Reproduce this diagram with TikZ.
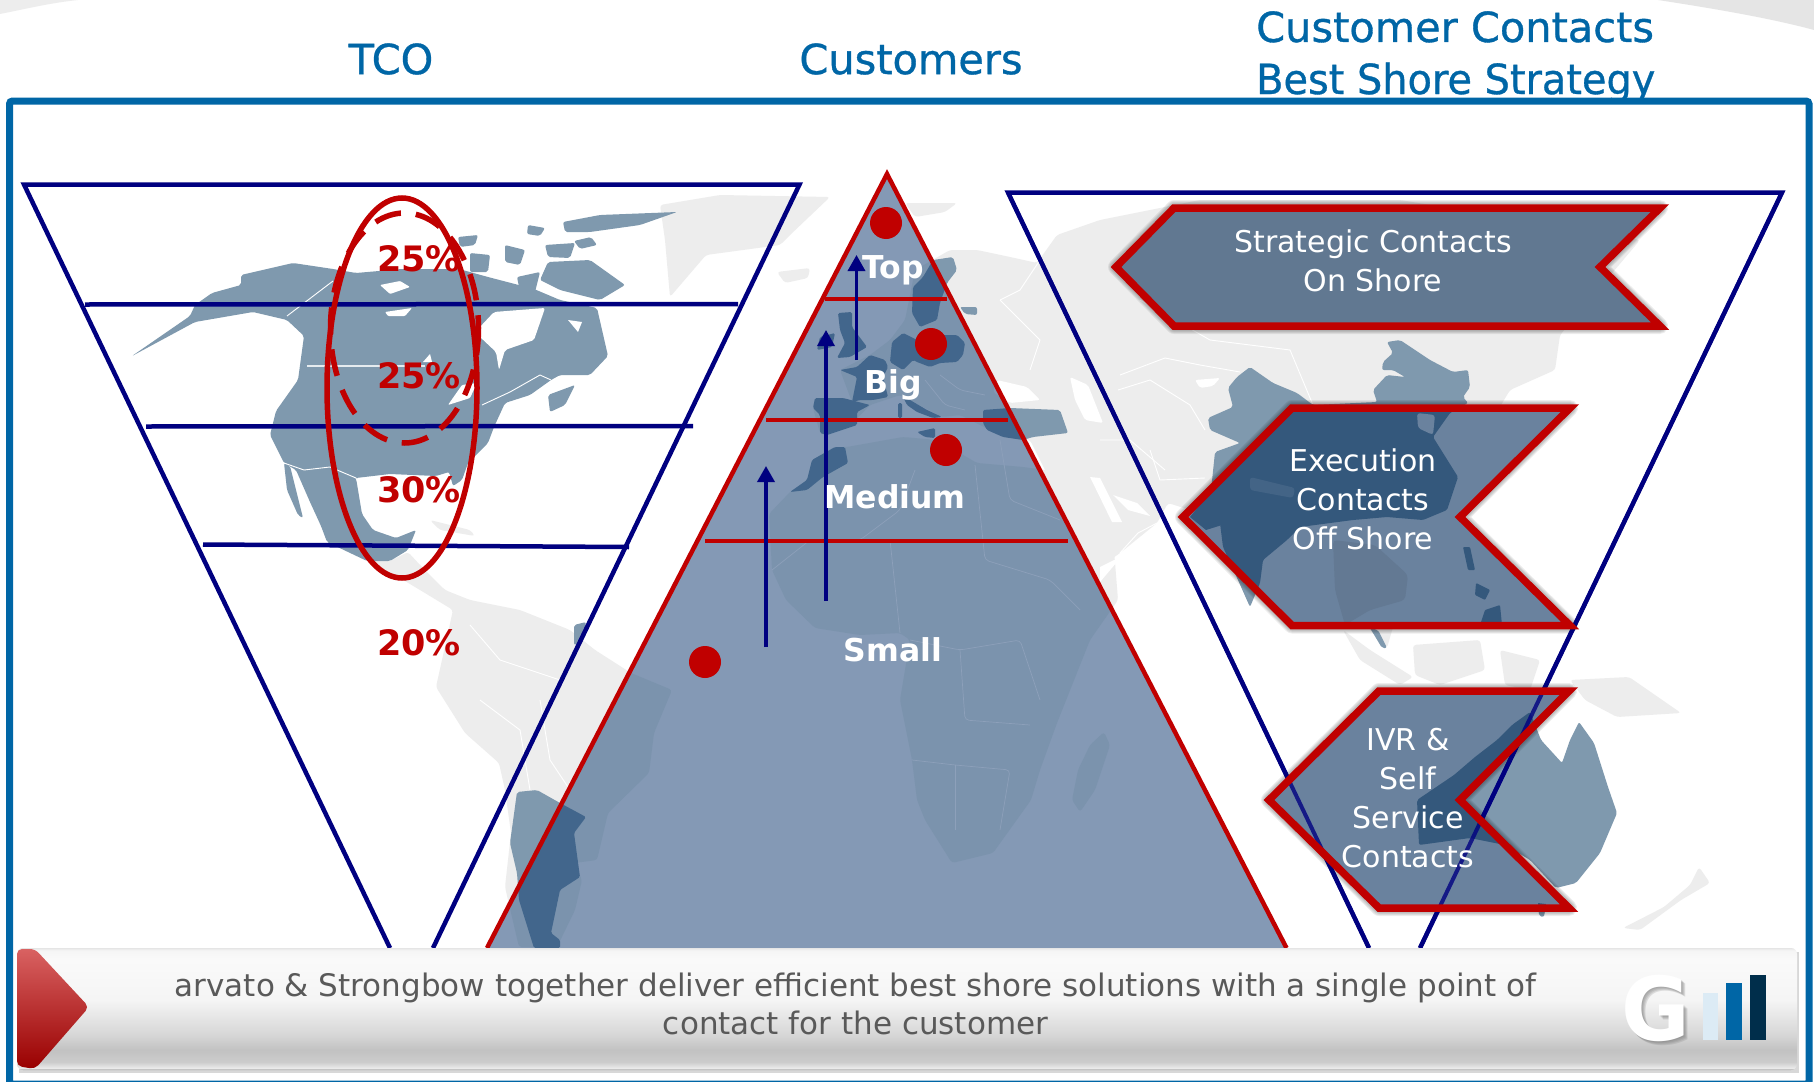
\documentclass[tikz,border=0pt]{standalone}
\usepackage{fontspec}
\setmainfont{DejaVu Sans}
\newfontfamily\headfont[FakeBold=0.8]{DejaVu Sans}
\usetikzlibrary{arrows.meta}
\definecolor{brandblue}{HTML}{0066A6}
\definecolor{navy}{HTML}{000080}
\definecolor{crimson}{HTML}{C00000}
\definecolor{mapgray}{HTML}{EDEDED}
\definecolor{landblue}{HTML}{7F99AE}
\definecolor{pyrfill}{HTML}{8499B5}
\definecolor{pyrland}{HTML}{7B93AD}
\definecolor{pyrdark}{HTML}{42668C}
\definecolor{chevfill}{HTML}{6A829E}
\definecolor{chevdark}{HTML}{34587C}
\definecolor{bartext}{HTML}{595959}
\definecolor{palebar}{HTML}{DCEBF5}
\pgfdeclareverticalshading{barshade}{100bp}{
 color(0bp)=(white);
 color(25bp)=(white!60!black!100);
 color(25.8bp)=(black!8);
 color(28.3bp)=(black!20);
 color(33.2bp)=(black!24);
 color(39.3bp)=(black!16);
 color(53.7bp)=(black!4);
 color(70bp)=(black!2);
 color(74bp)=(black!4);
 color(75bp)=(black!10);
 color(100bp)=(white)}
\newcommand\PyrClip{(887,174) -- (1286.5,948) -- (487,948) -- cycle}
\newcommand\NAm{(241,275) -- (293,263) -- (333,269) -- (356,273) -- (402,269) -- (459,269) -- (488,277) -- (534,289) -- (560,300) -- (597,308) -- (608,356) -- (590,375) -- (560,375) -- (551,380) -- (530,395) -- (505,403) -- (494,427) -- (488,443) -- (468,463) -- (462,480) -- (453,486) -- (449,472) -- (436,476) -- (390,474) -- (356,478) -- (362,514) -- (373,530) -- (396,538) -- (416,530) -- (408,550) -- (390,561) -- (367,561) -- (327,542) -- (321,526) -- (310,502) -- (296,470) -- (284,463) -- (270,435) -- (276,411) -- (298,380) -- (304,336) -- (287,320) -- (253,312) -- (195,322) -- (132,356) -- (190,316) -- (195,305) -- (212,293) -- (241,285) -- cycle}
\newcommand\SAm{(367,561) -- (390,561) -- (408,552) -- (420,565) -- (445,590) -- (470,600) -- (520,610) -- (570,630) -- (595,650) -- (631,673) -- (672,690) -- (654,733) -- (649,773) -- (608,813) -- (597,860) -- (574,863) -- (582,880) -- (575,910) -- (557,947) -- (519,947) -- (505,887) -- (511,833) -- (505,790) -- (499,763) -- (465,733) -- (436,687) -- (442,660) -- (453,610) -- (420,590) -- (395,575) -- cycle}
\newcommand\Arg{(517,792) -- (537,790) -- (560,803) -- (586,817) -- (574,833) -- (580,877) -- (560,890) -- (551,933) -- (560,940) -- (560,948) -- (534,948) -- (519,900) -- (517,873) -- (510,843) -- cycle}
\newcommand\Eur{(950,250) -- (977,250) -- (1010,257) -- (1037,263) -- (1057,235) -- (1100,220) -- (1200,200) -- (1400,200) -- (1640,240) -- (1560,335) -- (1555,370) -- (1510,390) -- (1480,440) -- (1450,510) -- (1420,560) -- (1395,620) -- (1387,648) -- (1370,630) -- (1340,540) -- (1290,540) -- (1262,570) -- (1250,607) -- (1238,580) -- (1222,527) -- (1200,513) -- (1168,503) -- (1157,523) -- (1120,553) -- (1100,567) -- (1075,530) -- (1045,470) -- (1030,440) -- (990,430) -- (960,415) -- (942,417) -- (900,395) -- (870,405) -- (848,428) -- (820,433) -- (813,408) -- (815,398) -- (852,402) -- (840,370) -- (870,355) -- (890,340) -- (905,320) -- (915,270) -- cycle}
\newcommand\Afr{(790,492) -- (807,480) -- (812,460) -- (835,447) -- (847,447) -- (903,437) -- (937,440) -- (977,463) -- (1023,467) -- (1045,470) -- (1085,478) -- (1112,525) -- (1118,600) -- (1090,640) -- (1057,723) -- (1040,770) -- (1031,800) -- (993,853) -- (952,863) -- (925,820) -- (917,800) -- (912,760) -- (900,700) -- (910,640) -- (900,633) -- (860,635) -- (815,628) -- (786,600) -- (772,570) -- (769,514) -- cycle}
\newcommand\Madag{(1104,732) -- (1110,745) -- (1095,790) -- (1080,812) -- (1072,800) -- (1078,770) -- (1090,745) -- cycle}
\newcommand\ChinaInd{(1387,342) -- (1400,340) -- (1430,360) -- (1453,372) -- (1468,370) -- (1470,387) -- (1463,397) -- (1468,403) -- (1450,413) -- (1433,437) -- (1458,477) -- (1447,510) -- (1423,520) -- (1387,517) -- (1353,520) -- (1300,527) -- (1287,540) -- (1263,560) -- (1260,583) -- (1250,607) -- (1238,580) -- (1223,547) -- (1220,523) -- (1200,523) -- (1210,500) -- (1215,452) -- (1240,443) -- (1210,430) -- (1208,418) -- (1233,407) -- (1228,388) -- (1237,377) -- (1250,367) -- (1273,383) -- (1297,393) -- (1313,405) -- (1377,402) -- (1373,390) -- (1387,375) -- (1405,377) -- (1393,370) -- (1382,370) -- (1383,362) -- (1393,353) -- cycle}
\newcommand\Aus{(1579,722) -- (1594,743) -- (1608,787) -- (1617,813) -- (1600,853) -- (1576,883) -- (1556,888) -- (1530,860) -- (1505,845) -- (1470,838) -- (1419,845) -- (1417,800) -- (1454,775) -- (1475,757) -- (1497,740) -- (1512,725) -- (1530,712) -- (1541,740) -- (1562,763) -- (1570,740) -- cycle}
\newcommand\Tur{(983,423) -- (983,410) -- (1010,408) -- (1060,410) -- (1068,433) -- (1033,437) -- (1023,440) -- (1003,437) -- (987,430) -- cycle}
\newcommand\Swe{(933,260) -- (953,257) -- (957,270) -- (947,283) -- (940,303) -- (937,320) -- (920,327) -- (912,313) -- (913,287) -- (923,277) -- cycle}
\newcommand\ChevA{(1116,267) -- (1174,208) -- (1660,208) -- (1600,267) -- (1660,326) -- (1174,326) -- cycle}
\newcommand\ChevB{(1183,517) -- (1292,408) -- (1570,408) -- (1460,517) -- (1570,625.5) -- (1292,625.5) -- cycle}
\newcommand\ChevC{(1269,800) -- (1379,691) -- (1569,691) -- (1460,800) -- (1569,908) -- (1379,908) -- cycle}
\tikzset{
 grayland/.style={fill=mapgray,draw=none,rounded corners=3pt},
 blueland/.style={fill=landblue,draw=none,rounded corners=2pt},
 inland/.style={fill=pyrland,draw=none,rounded corners=3pt},
 darkland/.style={fill=pyrdark,draw=none,rounded corners=1.5pt},
 whiteline/.style={draw=white,line width=0.9pt,line join=round},
 pyrborder/.style={draw=pyrfill!93!white,line width=0.7pt,rounded corners=4pt},
 trinavy/.style={draw=navy,line width=4.5pt,line join=miter},
 rulenavy/.style={draw=navy,line width=4.5pt},
 rulered/.style={draw=crimson,line width=4.5pt},
 chevline/.style={draw=crimson,line width=7.5pt,line join=miter,miter limit=8},
 chevglow/.style={draw=black,opacity=0.07,line join=round},
 riser/.style={draw=navy,line width=3.5pt,-{Triangle[length=16pt,width=17pt]}},
 reddot/.style={circle,fill=crimson,draw=none,minimum size=32pt,inner sep=0pt},
 pct/.style={text=crimson,font=\fontsize{35}{40}\selectfont\bfseries},
 tier/.style={text=white,font=\fontsize{31.5}{38}\selectfont\bfseries},
 heading/.style={text=brandblue,font=\fontsize{41.5}{50}\selectfont\headfont},
 chevtext/.style={text=white,align=center,font=\fontsize{30}{39}\selectfont},
 bartxt/.style={text=bartext,align=center,font=\fontsize{31}{38}\selectfont}
}
\begin{document}
\begin{tikzpicture}[x=1pt,y=-1pt]
\useasboundingbox (0,0) rectangle (1814,1081);
\fill[white] (0,0) rectangle (1814,1081);
% corner swooshes
\fill[black!7] (0,14) .. controls (30,8) and (50,3) .. (78,0) -- (0,0) -- cycle;
\fill[black!10] (1658,0) .. controls (1710,8) and (1770,18) .. (1814,30) -- (1814,0) -- cycle;
% grey world map
\fill[grayland] \Eur;
\fill[grayland] \Afr;
\fill[grayland] \SAm;
\fill[grayland] (660,205) -- (720,195) -- (830,197) -- (790,235) -- (780,245) -- (706,255) -- (670,297) -- (665,240) -- cycle;
\fill[grayland] (777,272) -- (810,268) -- (808,278) -- (785,283) -- cycle;
\fill[grayland] (905,203) -- (957,203) -- (945,212) -- (915,217) -- cycle;
\fill[grayland] (430,520) -- (470,530) -- (475,536) -- (440,530) -- cycle;
\fill[grayland] (1343,630) -- (1370,650) -- (1413,677) -- (1400,685) -- (1360,660) -- cycle;
\fill[grayland] (1413,645) -- (1480,640) -- (1485,670) -- (1440,685) -- (1415,675) -- cycle;
\fill[grayland] (1500,650) -- (1540,660) -- (1530,690) -- (1505,685) -- cycle;
\fill[grayland] (1570,680) -- (1629,677) -- (1681,713) -- (1617,717) -- (1585,700) -- cycle;
\fill[grayland] (1699,867) -- (1710,883) -- (1681,900) -- (1640,930) -- (1623,928) -- (1664,907) -- (1690,885) -- cycle;
% seas cut out of the grey
\fill[white,rounded corners=2pt] (997,380) -- (1027,387) -- (1040,400) -- (1010,403) -- (993,392) -- cycle;
\fill[white,rounded corners=2pt] (1070,377) -- (1088,385) -- (1103,423) -- (1085,420) -- (1075,400) -- cycle;
\fill[white,rounded corners=2pt] (1195,380) -- (1220,378) -- (1213,386) -- (1200,388) -- cycle;
\fill[white] (1090,477) -- (1100,478) -- (1122,522) -- (1112,522) -- cycle;
\fill[white] (1113,495) -- (1137,503) -- (1150,516) -- (1128,510) -- cycle;
\fill[white] (1100,567) -- (1122,556) -- (1100,582) -- cycle;
\draw[whiteline] (1120,375) -- (1165,358) -- (1200,365) -- (1240,372);
\draw[whiteline] (1118,390) -- (1150,380) -- (1190,405) -- (1205,430);
\draw[whiteline] (1150,450) -- (1160,480) -- (1205,478);
\draw[whiteline] (1000,300) -- (1040,340) -- (1030,370);
\draw[whiteline] (1040,260) -- (1020,290) -- (1000,300);
\draw[whiteline] (1100,440) -- (1130,440) -- (1165,470);
\draw[whiteline] (1313,405) -- (1290,350) -- (1210,340) -- (1140,300);
\draw[whiteline] (470,625) -- (500,660) -- (560,680);
\draw[whiteline] (480,700) -- (520,730) -- (530,790);
\draw[whiteline] (540,700) -- (550,760) -- (570,790);
\draw[whiteline] (1120,553) -- (1138,533) -- (1157,523);
% North America
\fill[blueland] \NAm;
\fill[blueland] (284,463) -- (290,466) -- (303,518) -- (298,515) -- (287,490) -- cycle;
\fill[white,rounded corners=2pt] (479,328) -- (494,312) -- (545,308) -- (534,340) -- (505,350) -- (499,370) -- (496,352) -- (479,336) -- cycle;
\fill[white,rounded corners=1pt] (380,285) -- (400,281) -- (410,287) -- (390,294) -- cycle;
\fill[white,rounded corners=1pt] (385,312) -- (412,308) -- (405,316) -- (388,316) -- cycle;
\fill[white,rounded corners=1pt] (448,405) -- (462,385) -- (477,383) -- (470,398) -- cycle;
\fill[white] (423,362) -- (430,354) -- (432,362) -- cycle;
\fill[white] (568,320) -- (582,322) -- (578,332) -- cycle;
\fill[white,rounded corners=1pt] (565,277) -- (580,275) -- (575,284) -- cycle;
\fill[blueland] (563,222) -- (600,215) -- (677,212) -- (640,225) -- (590,232) -- (565,232) -- cycle;
\fill[blueland] (548,262) -- (590,260) -- (625,285) -- (600,300) -- (560,290) -- (540,280) -- cycle;
\fill[blueland] (458,237) -- (478,235) -- (475,245) -- (460,247) -- cycle;
\fill[blueland] (470,253) -- (490,255) -- (488,272) -- (470,272) -- cycle;
\fill[blueland] (528,225) -- (545,228) -- (540,236) -- (527,234) -- cycle;
\fill[blueland] (545,245) -- (575,243) -- (570,258) -- (548,257) -- cycle;
\fill[blueland] (505,245) -- (525,250) -- (520,265) -- (505,262) -- cycle;
\fill[blueland] (517,277) -- (540,272) -- (535,292) -- (520,292) -- cycle;
\fill[blueland] (548,395) -- (575,385) -- (565,405) -- (550,412) -- cycle;
\fill[blueland] (574,241) -- (591,237) -- (597,245) -- (580,249) -- cycle;
\fill[blueland] (215,293) -- (235,295) -- (230,300) -- (218,299) -- cycle;
\fill[blueland] (574,625) -- (586,622) -- (583,642) -- (574,645) -- cycle;
\draw[whiteline] (287,316) -- (333,281);
\draw[draw=white!80!landblue,line width=1.2pt] (307,366) -- (425,366);
\draw[whiteline] (284,463) -- (304,470) -- (330,467) -- (356,478) -- (367,502);
\draw[whiteline] (482,405) -- (510,392) -- (540,375) -- (551,380);
% highlighted countries outside the pyramid
\fill[blueland] \Arg;
\fill[blueland] \Swe;
\fill[blueland] \Tur;
\fill[blueland] (960,307) -- (977,307) -- (977,315) -- (965,314) -- cycle;
\fill[blueland] \ChinaInd;
\fill[blueland] \Aus;
\fill[blueland] (1538,903) -- (1546,904) -- (1544,917) -- (1539,916) -- cycle;
\fill[blueland] (1370,628) -- (1378,630) -- (1387,648) -- (1382,648) -- cycle;
% pyramid
\begin{scope}
\clip \PyrClip;
\fill[pyrfill] \PyrClip;
\fill[inland] \Eur;
\fill[inland] \Afr;
\fill[inland] \SAm;
\fill[inland] (777,272) -- (810,268) -- (808,278) -- (785,283) -- cycle;
\fill[pyrfill,rounded corners=2pt] (997,380) -- (1027,387) -- (1040,400) -- (1010,403) -- (993,392) -- cycle;
\fill[inland] \Madag;
\fill[darkland] \Arg;
\fill[darkland] \Swe;
\fill[darkland] \Tur;
\fill[darkland] (892,342) -- (903,333) -- (917,340) -- (927,335) -- (957,335) -- (965,343) -- (963,355) -- (957,362) -- (940,363) -- (930,367) -- (917,362) -- (913,360) -- (903,370) -- (890,362) -- cycle;
\fill[darkland] (840,370) -- (857,367) -- (870,355) -- (885,360) -- (888,367) -- (883,377) -- (888,397) -- (873,400) -- (860,400) -- (852,402) -- (857,377) -- cycle;
\fill[darkland] (815,398) -- (843,398) -- (870,405) -- (857,412) -- (857,425) -- (848,428) -- (827,435) -- (820,433) -- (820,415) -- (813,408) -- cycle;
\fill[darkland] (838,313) -- (852,312) -- (852,327) -- (867,347) -- (850,357) -- (837,358) -- (845,343) -- (840,330) -- cycle;
\fill[darkland] (820,337) -- (835,333) -- (832,347) -- (817,350) -- cycle;
\fill[darkland] (903,397) -- (910,400) -- (927,410) -- (942,417) -- (933,418) -- (917,412) -- (907,405) -- cycle;
\fill[darkland] (917,432) -- (935,428) -- (935,438) -- (925,437) -- cycle;
\fill[darkland] (898,403) -- (902,403) -- (902,418) -- (898,418) -- cycle;
\fill[darkland] (790,492) -- (807,480) -- (812,460) -- (835,447) -- (845,447) -- (848,463) -- (823,477) -- (807,490) -- cycle;
\draw[pyrborder] (772,570) -- (810,540) -- (860,540) -- (900,510) -- (915,470);
\draw[pyrborder] (890,540) -- (900,633);
\draw[pyrborder] (975,465) -- (985,560) -- (1050,580) -- (1080,610);
\draw[pyrborder] (910,640) -- (960,650) -- (1020,640) -- (1040,700);
\draw[pyrborder] (960,650) -- (965,720) -- (1030,725);
\draw[pyrborder] (912,760) -- (955,765) -- (1010,770) -- (1000,830);
\draw[pyrborder] (955,765) -- (955,830);
\draw[pyrborder] (940,375) -- (960,390) -- (985,395);
\draw[pyrborder] (925,380) -- (945,405) -- (965,410);
\draw[pyrborder] (1000,440) -- (1010,500) -- (1060,520);
\end{scope}
\draw[draw=crimson,line width=4.5pt,line join=miter] (1286.5,948) -- (887,174) -- (487,948);
\draw[rulered] (825,299) -- (947,299);
\draw[rulered] (766,420) -- (1008,420);
\draw[rulered] (705,541) -- (1068,541);
% left funnel
\draw[trinavy] (390,948) -- (24,184.5) -- (799.5,184.5) -- (433,948);
\draw[rulenavy] (85,304.5) -- (738,304);
\draw[rulenavy] (146,426.5) -- (693,426);
\draw[rulenavy] (203,544.5) -- (629,547);
% right funnel
\draw[trinavy] (1369,948) -- (1008,192.5) -- (1782,192.5) -- (1420,948);
% ellipses
\draw[crimson,line width=5.5pt,dash pattern=on 27pt off 15pt] (404.5,328) ellipse [x radius=74,y radius=115];
\draw[crimson,line width=5.5pt] (402,388) ellipse [x radius=75,y radius=190];
% chevrons
\foreach \w in {16,14,12,10}{\draw[chevglow,line width=\w pt] \ChevA;\draw[chevglow,line width=\w pt] \ChevB;\draw[chevglow,line width=\w pt] \ChevC;}
\fill[chevfill!92!black] \ChevA;
\fill[chevfill] \ChevB;
\fill[chevfill] \ChevC;
\begin{scope}
\clip \ChevB;
\fill[chevfill!93!black,rounded corners=4pt] (1333,540) -- (1375,545) -- (1408,575) -- (1405,600) -- (1370,610) -- (1345,625) -- (1335,590) -- cycle;
\fill[chevdark,rounded corners=1.5pt] \ChinaInd;
\fill[chevdark] (1190,517) -- (1240,455) -- (1240,530) -- (1222,525) -- (1206,530) -- cycle;
\fill[chevdark!72!chevfill,rounded corners=3pt] (1250,477) -- (1295,488) -- (1293,498) -- (1250,490) -- cycle;
\fill[chevfill,rounded corners=3pt] (1417,413) -- (1435,415) -- (1433,435) -- (1418,428) -- cycle;
\fill[chevdark,rounded corners=1pt] (1463,547) -- (1470,547) -- (1475,570) -- (1468,570) -- cycle;
\fill[chevdark,rounded corners=1pt] (1485,610) -- (1500,605) -- (1502,625) -- (1480,625) -- cycle;
\fill[chevdark,rounded corners=1pt] (1476,583) -- (1490,590) -- (1485,600) -- (1475,595) -- cycle;
\end{scope}
\begin{scope}
\clip \ChevC;
\fill[chevdark,rounded corners=2pt] \Aus;
\fill[chevdark] (1538,903) -- (1546,904) -- (1544,917) -- (1539,916) -- cycle;
\end{scope}
\draw[navy,line width=4pt,opacity=0.8] (1369,948) -- (1008,192.5) (1420,948) -- (1782,192.5);
\draw[chevline] \ChevA;
\draw[chevline] \ChevB;
\draw[chevline] \ChevC;
% risers and dots
\draw[riser] (856.5,360) -- (856.5,255);
\draw[riser] (826,601) -- (826,330);
\draw[riser] (766,647) -- (766,466);
\node[reddot] (dotTop) at (886,223) {};
\node[reddot] (dotBig) at (931,344) {};
\node[reddot] (dotMed) at (946,450) {};
\node[reddot] (dotSmall) at (705,662) {};
% labels
\node[pct] (p1) at (419,259) {25\%};
\node[pct] (p2) at (419,375.5) {25\%};
\node[pct] (p3) at (419,490) {30\%};
\node[pct] (p4) at (419,643) {20\%};
\node[tier] (tTop) at (893,270) {Top};
\node[tier] (tBig) at (893,385) {Big};
\node[tier] (tMed) at (895,497) {Medium};
\node[tier] (tSmall) at (893,650) {Small};
\node[chevtext] (cA) at (1373,260.5) {Strategic Contacts\\On Shore};
\node[chevtext] (cB) at (1363,499.5) {Execution\\Contacts\\Off Shore};
\node[chevtext] (cC) at (1408,798) {IVR \&\\Self\\Service\\Contacts};
% headings and frame
\node[heading] (hTCO) at (391,59) {TCO};
\node[heading] (hCust) at (911,59) {Customers};
\node[heading,anchor=base west,inner sep=0pt] (hCC) at (1256,42) {Customer Contacts};
\node[heading,anchor=base west,inner sep=0pt,xscale=0.96] (hBS) at (1256,94) {Best Shore Strategy};
\draw[brandblue,line width=7pt,rounded corners=3pt] (9.5,101) rectangle (1809,1084);
% bottom bar
\fill[black!30,opacity=0.5] (19,952) rectangle (1799,1073);
\shade[shading=barshade,rounded corners=6pt] (17,948) rectangle (1797,1070);
\shade[top color=red!55!white!85!black,bottom color=red!60!black,rounded corners=5pt] (17,949) -- (35,949) -- (89,1007) -- (35,1069) -- (17,1066) -- cycle;
\node[bartxt] (barText) at (855.5,1004) {arvato \& Strongbow together deliver efficient best shore solutions with a single point of\\contact for the customer};
% logo
\foreach \d in {4,3,2,1}{\node[text=black!55,opacity=0.2,font=\fontsize{88}{88}\selectfont\bfseries,xscale=0.95] (logoG\d) at (1656+\d,1008+\d) {G};}
\node[text=white,font=\fontsize{88}{88}\selectfont\bfseries,xscale=0.95] (logoG) at (1656,1008) {G};
\fill[palebar] (1703,993) rectangle (1718,1040);
\fill[brandblue] (1726,983) rectangle (1742,1040);
\fill[brandblue!45!black] (1750,975) rectangle (1766,1040);
\end{tikzpicture}
\end{document}
